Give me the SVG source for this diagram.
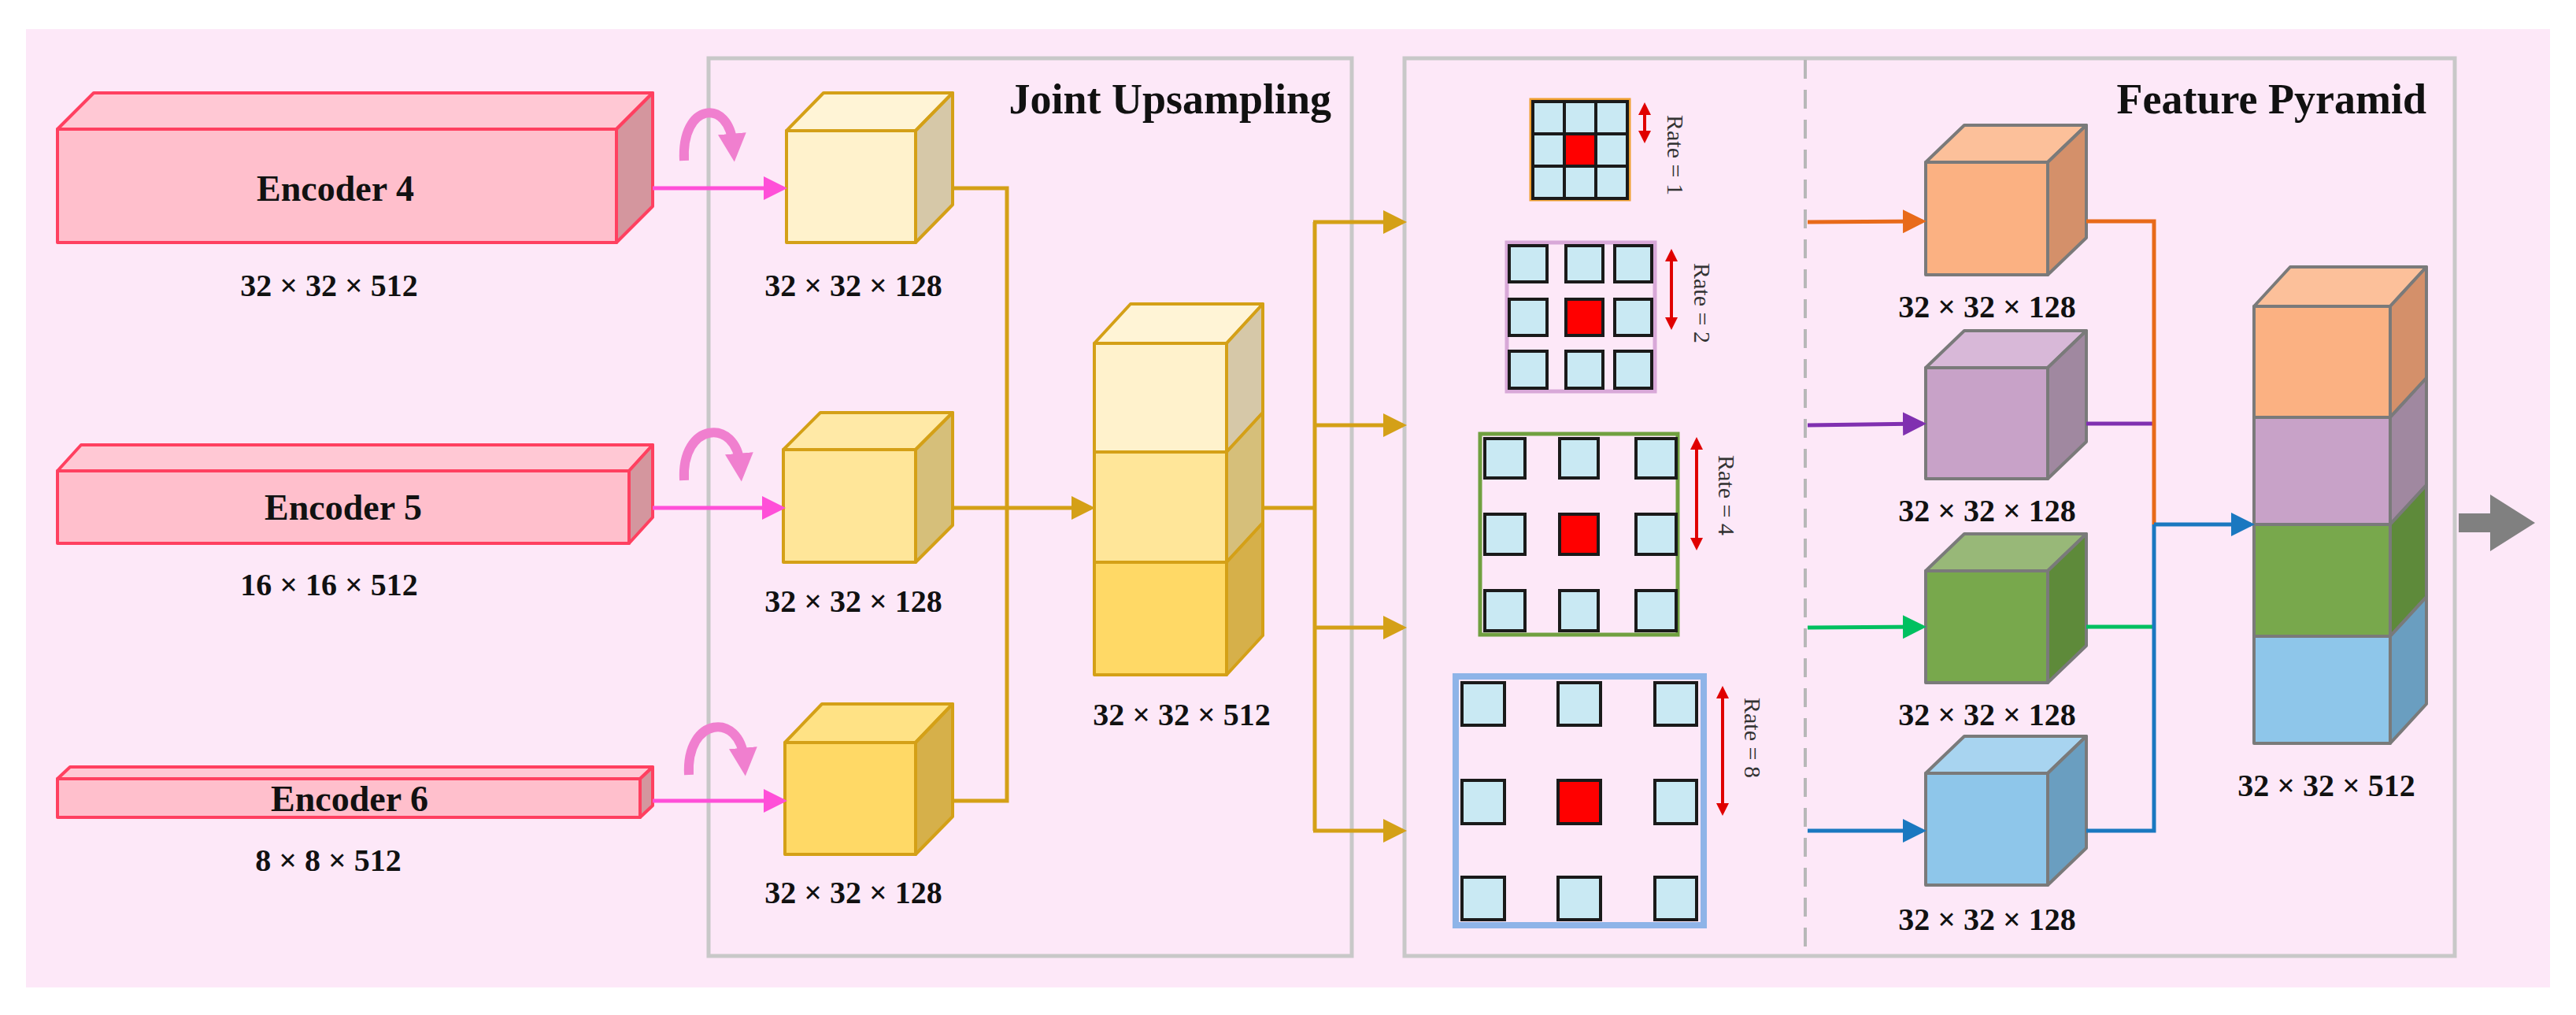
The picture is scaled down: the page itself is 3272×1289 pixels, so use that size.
<svg xmlns="http://www.w3.org/2000/svg" width="3272" height="1289" viewBox="0 0 3272 1289">
<style>
.t{font-family:"Liberation Serif",serif;font-weight:bold;fill:#111;text-anchor:middle}
.lbl{font-size:40px}
.enc{font-size:46px}
.ttl{font-size:54px;text-anchor:end}
.rate{font-family:"Liberation Serif",serif;font-size:30px;fill:#333;text-anchor:middle}
.box{fill:none;stroke:#c8c8c8;stroke-width:5}
.e{stroke:#ff4060;stroke-width:4;stroke-linejoin:round}
.y{stroke:#d4a017;stroke-width:4;stroke-linejoin:round}
.g{stroke:#7a7a7a;stroke-width:4;stroke-linejoin:round}
.cell{fill:#c9e9f3;stroke:#1a1a1a;stroke-width:4}
.red{fill:#ff0000;stroke:#1a1a1a;stroke-width:4}
.ln{fill:none;stroke-width:5}
.curve{fill:none;stroke:#f07fcf;stroke-width:12}
</style>
<defs>
<marker id="mp" markerWidth="6" markerHeight="6" refX="5" refY="3" orient="auto" markerUnits="strokeWidth"><path d="M0,0 L6,3 L0,6 z" fill="#ff4fd8"/></marker>
<marker id="mc" markerWidth="3" markerHeight="3" refX="1.2" refY="1.5" orient="auto" markerUnits="strokeWidth"><path d="M0,0 L3,1.5 L0,3 z" fill="#f07fcf"/></marker>
<marker id="my" markerWidth="6" markerHeight="6" refX="5" refY="3" orient="auto" markerUnits="strokeWidth"><path d="M0,0 L6,3 L0,6 z" fill="#d4a017"/></marker>
<marker id="mo" markerWidth="6" markerHeight="6" refX="5" refY="3" orient="auto" markerUnits="strokeWidth"><path d="M0,0 L6,3 L0,6 z" fill="#e86a1a"/></marker>
<marker id="mv" markerWidth="6" markerHeight="6" refX="5" refY="3" orient="auto" markerUnits="strokeWidth"><path d="M0,0 L6,3 L0,6 z" fill="#8030b0"/></marker>
<marker id="mg" markerWidth="6" markerHeight="6" refX="5" refY="3" orient="auto" markerUnits="strokeWidth"><path d="M0,0 L6,3 L0,6 z" fill="#00c060"/></marker>
<marker id="mb" markerWidth="6" markerHeight="6" refX="5" refY="3" orient="auto" markerUnits="strokeWidth"><path d="M0,0 L6,3 L0,6 z" fill="#1a78c0"/></marker>
<marker id="mr" markerWidth="4" markerHeight="4" refX="3" refY="2" orient="auto-start-reverse" markerUnits="strokeWidth"><path d="M0,0 L4,2 L0,4 z" fill="#e00000"/></marker>
</defs>
<rect x="33" y="37" width="3206" height="1217" fill="#fde8f8"/>
<rect class="box" x="900" y="74" width="817" height="1140"/>
<rect class="box" x="1784" y="74" width="1334" height="1140"/>
<line x1="2293" y1="76" x2="2293" y2="1212" stroke="#b8b8b8" stroke-width="4" stroke-dasharray="24,14"/>
<text class="t ttl" x="1691" y="144">Joint Upsampling</text>
<text class="t ttl" x="3082" y="144">Feature Pyramid</text>

<g id="encoder4">
<polygon class="e" points="73,164 119,118 829,118 783,164" fill="#ffc8d4"/>
<polygon class="e" points="783,164 829,118 829,262 783,308" fill="#d4969e"/>
<rect class="e" x="73" y="164" width="710" height="144" fill="#ffbfcc"/>
<text class="t enc" x="426" y="255">Encoder 4</text>
<text class="t lbl" x="418" y="376">32 × 32 × 512</text>
</g>
<g id="encoder5">
<polygon class="e" points="73,598 103,565 829,565 799,598" fill="#ffc8d4"/>
<polygon class="e" points="799,598 829,565 829,657 799,690" fill="#d4969e"/>
<rect class="e" x="73" y="598" width="726" height="92" fill="#ffbfcc"/>
<text class="t enc" x="436" y="660">Encoder 5</text>
<text class="t lbl" x="418" y="756">16 × 16 × 512</text>
</g>
<g id="encoder6">
<polygon class="e" points="73,989 89,974 829,974 813,989" fill="#ffc8d4"/>
<polygon class="e" points="813,989 829,974 829,1023 813,1038" fill="#d4969e"/>
<rect class="e" x="73" y="989" width="740" height="49" fill="#ffbfcc"/>
<text class="t enc" x="444" y="1030">Encoder 6</text>
<text class="t lbl" x="417" y="1106">8 × 8 × 512</text>
</g>

<g id="cube1">
<polygon class="y" points="999,166 1046,118 1210,118 1163,166" fill="#fff4d6"/>
<polygon class="y" points="1163,166 1210,118 1210,260 1163,308" fill="#d6c8a8"/>
<rect class="y" x="999" y="166" width="164" height="142" fill="#fff2cc"/>
<text class="t lbl" x="1084" y="376">32 × 32 × 128</text>
</g>
<g id="cube2">
<polygon class="y" points="995,571 1042,524 1210,524 1163,571" fill="#ffe9a6"/>
<polygon class="y" points="1163,571 1210,524 1210,667 1163,714" fill="#d6bf7a"/>
<rect class="y" x="995" y="571" width="168" height="143" fill="#ffe699"/>
<text class="t lbl" x="1084" y="777">32 × 32 × 128</text>
</g>
<g id="cube3">
<polygon class="y" points="997,943 1044,894 1210,894 1163,943" fill="#ffe285"/>
<polygon class="y" points="1163,943 1210,894 1210,1037 1163,1085" fill="#d6b04a"/>
<rect class="y" x="997" y="943" width="166" height="142" fill="#ffd966"/>
<text class="t lbl" x="1084" y="1147">32 × 32 × 128</text>
</g>
<g id="stack512">
<polygon class="y" points="1390,436 1436,386 1604,386 1558,436" fill="#fff4d6"/>
<polygon class="y" points="1558,436 1604,386 1604,524 1558,574" fill="#d6c8a8"/>
<polygon class="y" points="1558,574 1604,524 1604,664 1558,714" fill="#d6bf7a"/>
<polygon class="y" points="1558,714 1604,664 1604,807 1558,857" fill="#d6b04a"/>
<rect class="y" x="1390" y="436" width="168" height="138" fill="#fff2cc"/>
<rect class="y" x="1390" y="574" width="168" height="140" fill="#ffe699"/>
<rect class="y" x="1390" y="714" width="168" height="143" fill="#ffd966"/>
<text class="t lbl" x="1501" y="921">32 × 32 × 512</text>
</g>

<g id="rate1">
<rect x="1945" y="127" width="124" height="126" fill="none" stroke="#f0a030" stroke-width="5"/>
<rect class="cell" x="1947" y="129" width="40" height="41"/><rect class="cell" x="1987" y="129" width="40" height="41"/><rect class="cell" x="2027" y="129" width="40" height="41"/>
<rect class="cell" x="1947" y="170" width="40" height="41"/><rect class="red" x="1987" y="170" width="40" height="41"/><rect class="cell" x="2027" y="170" width="40" height="41"/>
<rect class="cell" x="1947" y="211" width="40" height="41"/><rect class="cell" x="1987" y="211" width="40" height="41"/><rect class="cell" x="2027" y="211" width="40" height="41"/>
<line x1="2089" y1="134" x2="2089" y2="178" stroke="#e00000" stroke-width="4" marker-start="url(#mr)" marker-end="url(#mr)"/>
<text class="rate" transform="translate(2118,197) rotate(90)">Rate = 1</text>
</g>
<g id="rate2">
<rect x="1914" y="308" width="188" height="189" fill="none" stroke="#d8a8d8" stroke-width="5"/>
<rect class="cell" x="1917" y="312" width="48" height="46"/><rect class="cell" x="1989" y="312" width="47" height="46"/><rect class="cell" x="2051" y="312" width="47" height="46"/>
<rect class="cell" x="1917" y="380" width="48" height="46"/><rect class="red" x="1989" y="380" width="47" height="46"/><rect class="cell" x="2051" y="380" width="47" height="46"/>
<rect class="cell" x="1917" y="446" width="48" height="47"/><rect class="cell" x="1989" y="446" width="47" height="47"/><rect class="cell" x="2051" y="446" width="47" height="47"/>
<line x1="2123" y1="320" x2="2123" y2="415" stroke="#e00000" stroke-width="4" marker-start="url(#mr)" marker-end="url(#mr)"/>
<text class="rate" transform="translate(2152,385) rotate(90)">Rate = 2</text>
</g>
<g id="rate4">
<rect x="1880" y="551" width="251" height="255" fill="none" stroke="#70a040" stroke-width="5"/>
<rect class="cell" x="1886" y="557" width="51" height="50"/><rect class="cell" x="1981" y="557" width="49" height="50"/><rect class="cell" x="2078" y="557" width="51" height="50"/>
<rect class="cell" x="1886" y="653" width="51" height="51"/><rect class="red" x="1981" y="653" width="49" height="51"/><rect class="cell" x="2078" y="653" width="51" height="51"/>
<rect class="cell" x="1886" y="750" width="51" height="51"/><rect class="cell" x="1981" y="750" width="49" height="51"/><rect class="cell" x="2078" y="750" width="51" height="51"/>
<line x1="2155" y1="559" x2="2155" y2="695" stroke="#e00000" stroke-width="4" marker-start="url(#mr)" marker-end="url(#mr)"/>
<text class="rate" transform="translate(2183,629) rotate(90)">Rate = 4</text>
</g>
<g id="rate8">
<rect x="1849" y="859" width="315" height="316" fill="none" stroke="#8eb4e8" stroke-width="8"/>
<rect class="cell" x="1857" y="867" width="54" height="54"/><rect class="cell" x="1979" y="867" width="54" height="54"/><rect class="cell" x="2102" y="867" width="53" height="54"/>
<rect class="cell" x="1857" y="991" width="54" height="55"/><rect class="red" x="1979" y="991" width="54" height="55"/><rect class="cell" x="2102" y="991" width="53" height="55"/>
<rect class="cell" x="1857" y="1114" width="54" height="54"/><rect class="cell" x="1979" y="1114" width="54" height="54"/><rect class="cell" x="2102" y="1114" width="53" height="54"/>
<line x1="2188" y1="875" x2="2188" y2="1032" stroke="#e00000" stroke-width="4" marker-start="url(#mr)" marker-end="url(#mr)"/>
<text class="rate" transform="translate(2216,937) rotate(90)">Rate = 8</text>
</g>

<g id="fp_orange">
<polygon class="g" points="2446,206 2495,159 2650,159 2601,206" fill="#fcc09a"/>
<polygon class="g" points="2601,206 2650,159 2650,302 2601,349" fill="#d4906a"/>
<rect class="g" x="2446" y="206" width="155" height="143" fill="#fbb182"/>
<text class="t lbl" x="2524" y="403">32 × 32 × 128</text>
</g>
<g id="fp_purple">
<polygon class="g" points="2446,467 2495,420 2650,420 2601,467" fill="#d8b8d8"/>
<polygon class="g" points="2601,467 2650,420 2650,561 2601,608" fill="#a088a0"/>
<rect class="g" x="2446" y="467" width="155" height="141" fill="#c8a2c8"/>
<text class="t lbl" x="2524" y="662">32 × 32 × 128</text>
</g>
<g id="fp_green">
<polygon class="g" points="2446,725 2495,678 2650,678 2601,725" fill="#98b878"/>
<polygon class="g" points="2601,725 2650,678 2650,820 2601,867" fill="#5e8a3a"/>
<rect class="g" x="2446" y="725" width="155" height="142" fill="#78a84c"/>
<text class="t lbl" x="2524" y="921">32 × 32 × 128</text>
</g>
<g id="fp_blue">
<polygon class="g" points="2446,982 2495,935 2650,935 2601,982" fill="#a8d4f0"/>
<polygon class="g" points="2601,982 2650,935 2650,1077 2601,1124" fill="#6a9ec0"/>
<rect class="g" x="2446" y="982" width="155" height="142" fill="#8ec6ea"/>
<text class="t lbl" x="2524" y="1181">32 × 32 × 128</text>
</g>
<g id="fp_stack">
<polygon class="g" points="2863,389 2909,339 3082,339 3036,389" fill="#fcc09a"/>
<polygon class="g" points="3036,389 3082,339 3082,480 3036,530" fill="#d4906a"/>
<polygon class="g" points="3036,530 3082,480 3082,616 3036,666" fill="#a088a0"/>
<polygon class="g" points="3036,666 3082,616 3082,758 3036,808" fill="#5e8a3a"/>
<polygon class="g" points="3036,808 3082,758 3082,894 3036,944" fill="#6a9ec0"/>
<rect class="g" x="2863" y="389" width="173" height="141" fill="#fbb182"/>
<rect class="g" x="2863" y="530" width="173" height="136" fill="#c8a2c8"/>
<rect class="g" x="2863" y="666" width="173" height="142" fill="#78a84c"/>
<rect class="g" x="2863" y="808" width="173" height="136" fill="#8ec6ea"/>
<text class="t lbl" x="2955" y="1011">32 × 32 × 512</text>
</g>

<g id="connectors">
<path class="curve" d="M869,204 C865,130 926,124 931,184" marker-end="url(#mc)"/>
<path class="curve" d="M869,610 C865,536 935,530 940,590" marker-end="url(#mc)"/>
<path class="curve" d="M875,984 C871,910 940,904 945,964" marker-end="url(#mc)"/>
<line class="ln" x1="829" y1="239" x2="995" y2="239" stroke="#ff4fd8" marker-end="url(#mp)"/>
<line class="ln" x1="829" y1="645" x2="993" y2="645" stroke="#ff4fd8" marker-end="url(#mp)"/>
<line class="ln" x1="829" y1="1017" x2="995" y2="1017" stroke="#ff4fd8" marker-end="url(#mp)"/>
<polyline class="ln" points="1210,239 1279,239 1279,1017 1210,1017" stroke="#d4a017"/>
<line class="ln" x1="1210" y1="645" x2="1386" y2="645" stroke="#d4a017" marker-end="url(#my)"/>
<polyline class="ln" points="1604,645 1670,645" stroke="#d4a017"/>
<line class="ln" x1="1670" y1="282" x2="1670" y2="1055" stroke="#d4a017"/>
<line class="ln" x1="1668" y1="282" x2="1782" y2="282" stroke="#d4a017" marker-end="url(#my)"/>
<line class="ln" x1="1668" y1="540" x2="1782" y2="540" stroke="#d4a017" marker-end="url(#my)"/>
<line class="ln" x1="1668" y1="797" x2="1782" y2="797" stroke="#d4a017" marker-end="url(#my)"/>
<line class="ln" x1="1668" y1="1055" x2="1782" y2="1055" stroke="#d4a017" marker-end="url(#my)"/>
<line class="ln" x1="2296" y1="282" x2="2442" y2="281" stroke="#e86a1a" marker-end="url(#mo)"/>
<line class="ln" x1="2296" y1="540" x2="2442" y2="538" stroke="#8030b0" marker-end="url(#mv)"/>
<line class="ln" x1="2296" y1="797" x2="2442" y2="796" stroke="#00c060" marker-end="url(#mg)"/>
<line class="ln" x1="2296" y1="1055" x2="2442" y2="1055" stroke="#1a78c0" marker-end="url(#mb)"/>
<line class="ln" x1="2650" y1="538" x2="2736" y2="538" stroke="#8030b0"/>
<line class="ln" x1="2650" y1="796" x2="2736" y2="796" stroke="#00c060"/>
<polyline class="ln" points="2650,281 2736,281 2736,666" stroke="#e86a1a"/>
<polyline class="ln" points="2650,1055 2736,1055 2736,666" stroke="#1a78c0"/>
<line class="ln" x1="2736" y1="666" x2="2859" y2="666" stroke="#1a78c0" marker-end="url(#mb)"/>
<path d="M3123,652 L3163,652 L3163,628 L3220,664 L3163,700 L3163,676 L3123,676 z" fill="#808080"/>
</g>
</svg>
